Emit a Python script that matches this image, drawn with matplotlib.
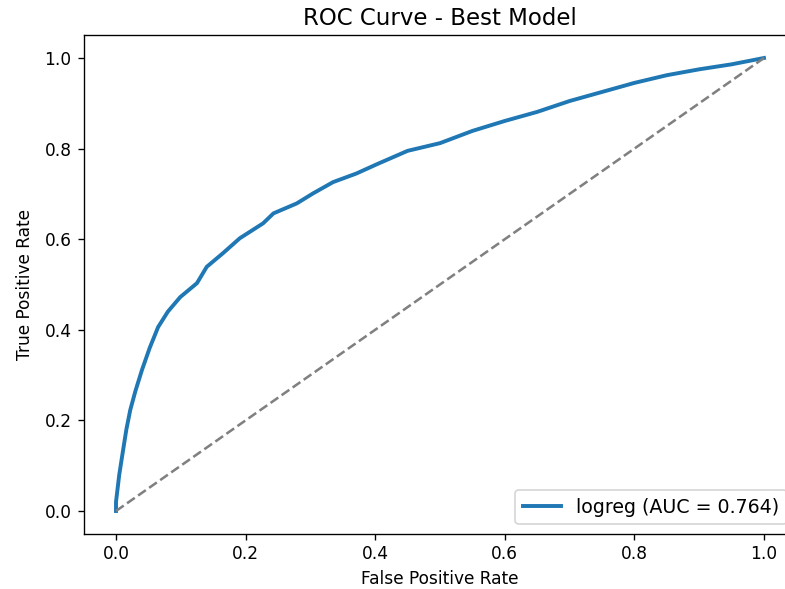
import matplotlib
matplotlib.use('Agg')
import matplotlib.pyplot as plt

# ROC points
fpr = [0.0, 0.0, 0.005, 0.011, 0.016, 0.022, 0.030, 0.040, 0.052, 0.065,
       0.080, 0.099, 0.125, 0.140, 0.165, 0.191, 0.227, 0.243, 0.279, 0.304,
       0.335, 0.371, 0.405, 0.45, 0.50, 0.55, 0.60, 0.65, 0.70, 0.75,
       0.80, 0.85, 0.90, 0.95, 1.0]
tpr = [0.0, 0.02, 0.08, 0.135, 0.18, 0.223, 0.265, 0.311, 0.36, 0.406,
       0.44, 0.472, 0.503, 0.539, 0.569, 0.602, 0.635, 0.657, 0.679, 0.701,
       0.726, 0.745, 0.767, 0.795, 0.812, 0.839, 0.861, 0.881, 0.905, 0.925,
       0.945, 0.962, 0.975, 0.986, 1.0]
model_name = 'logreg'
auc = 0.764

dpi = 122
fig = plt.figure(figsize=(785 / dpi, 589 / dpi), dpi=dpi)
# right spine falls just outside the picture, as in the reference
ax = fig.add_axes([0.1065, 0.094, 0.908, 0.846])

ax.plot(fpr, tpr, color='#1f77b4', lw=2.3, label=f'{model_name} (AUC = {auc:.3f})')
ax.plot([0, 1], [0, 1], color='gray', linestyle='--', lw=1.5)

ax.set_xlabel('False Positive Rate')
ax.set_ylabel('True Positive Rate', labelpad=6)
ax.set_title('ROC Curve - Best Model', fontsize=13.5)
ax.legend(loc='lower right', fontsize=11.2)

fig.savefig('out.png', dpi=dpi)
